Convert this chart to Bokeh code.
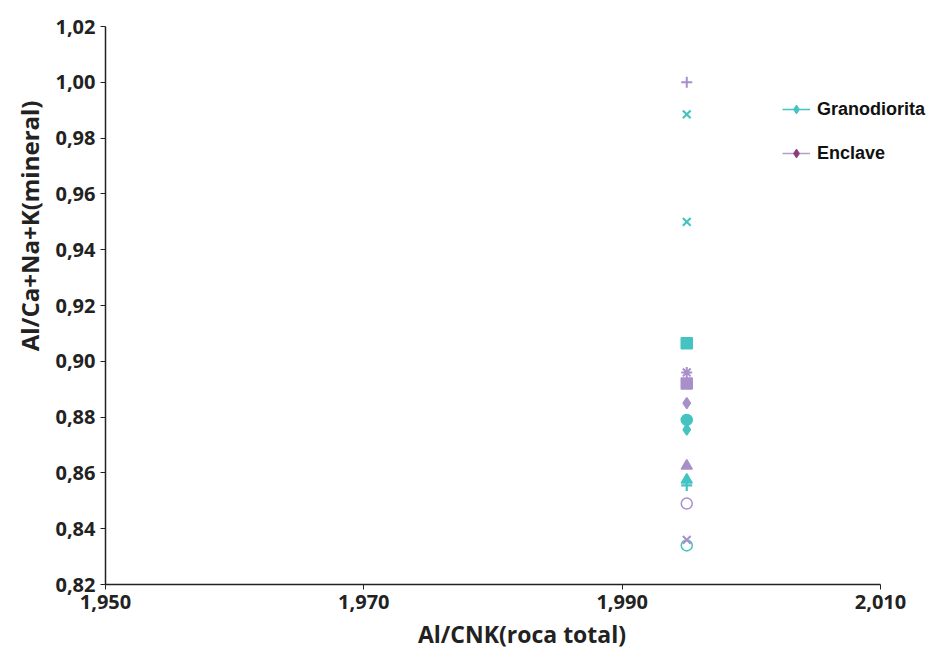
from bokeh.plotting import figure
from bokeh.models import FixedTicker, Legend, LegendItem, Range1d, Title
from bokeh.embed import file_html
from bokeh.resources import INLINE

# Data
x_value = 1.995
grano_markers = ["x", "x", "square", "circle", "diamond", "triangle", "cross", "circle"]
grano_y = [0.9885, 0.950, 0.9065, 0.879, 0.8755, 0.8575, 0.8555, 0.834]
grano_filled = [True, True, True, True, True, True, True, False]
encl_markers = ["cross", "asterisk", "square", "diamond", "triangle", "circle", "x"]
encl_y = [1.000, 0.896, 0.892, 0.885, 0.8625, 0.849, 0.836]
encl_filled = [True, True, True, True, True, False, True]

y_ticks = [0.82, 0.84, 0.86, 0.88, 0.90, 0.92, 0.94, 0.96, 0.98, 1.00, 1.02]
y_labels = ["0,82", "0,84", "0,86", "0,88", "0,90", "0,92", "0,94", "0,96", "0,98", "1,00", "1,02"]
x_ticks = [1.950, 1.970, 1.990, 2.010]
x_labels = ["1,950", "1,970", "1,990", "2,010"]
x_start, x_end = 1.950, 2.010

TEAL = "#45C3C3"
PURPLE = "#A98FC9"
ENCL_LEG = "#8C3F7C"
ENCL_LINE = "#B89CC8"

# frame spans 105..938 px; axis drawn only 1.950..2.010 (105..880 px)
x_pad = (x_end - x_start) * 58.0 / 775.0
p = figure(width=938, height=652, output_backend="svg", toolbar_location=None,
           x_range=Range1d(x_start, x_end + x_pad), y_range=Range1d(0.82, 1.02),
           min_border_left=105, min_border_right=0, min_border_top=26, min_border_bottom=66)
p.outline_line_color = None
p.xgrid.visible = False
p.ygrid.visible = False

for m, yv, f in zip(grano_markers, grano_y, grano_filled):
    p.scatter([x_value], [yv], marker=m, size=11, line_color=TEAL,
              line_width=2.2 if m in ("x", "cross") else 1.5,
              fill_color=TEAL if f else None)
for m, yv, f in zip(encl_markers, encl_y, encl_filled):
    p.scatter([x_value], [yv], marker=m, size=11, line_color=PURPLE,
              line_width=2 if m in ("x", "cross", "asterisk") else 1.5,
              fill_color=PURPLE if f else None)

# legend proxies (placed outside visible range)
off_x, off_y = [3.0], [0.9]
gl = p.line(off_x, off_y, line_color=TEAL, line_width=1.5)
gs = p.scatter(off_x, off_y, marker="diamond", size=10, fill_color=TEAL, line_color=TEAL)
el = p.line(off_x, off_y, line_color=ENCL_LINE, line_width=1.5)
es = p.scatter(off_x, off_y, marker="diamond", size=10, fill_color=ENCL_LEG, line_color=ENCL_LEG)
legend = Legend(items=[LegendItem(label="Granodiorita", renderers=[gl, gs]),
                       LegendItem(label="Enclave", renderers=[el, es])],
                location=(677, 420), border_line_color=None, background_fill_alpha=0,
                label_text_font="Liberation Sans", label_text_font_style="bold",
                label_text_font_size="18px", label_text_color="#111111",
                glyph_width=28, glyph_height=22, label_height=22,
                spacing=22, label_standoff=7)
p.add_layout(legend, "center")

for ax in (p.xaxis, p.yaxis):
    ax.axis_line_color = "#222222"
    ax.axis_line_width = 1.5
    ax.major_tick_line_color = "#222222"
    ax.major_tick_out = 5
    ax.major_tick_in = 0
    ax.minor_tick_line_color = None
    ax.major_label_text_font = "Open Sans"
    ax.major_label_text_font_style = "bold"
    ax.major_label_text_font_size = "20px"
    ax.major_label_text_color = "#222222"
    ax.axis_label_text_font = "Open Sans"
    ax.axis_label_text_font_style = "bold"
    ax.axis_label_text_font_size = "23px"
    ax.axis_label_text_color = "#222222"

p.xaxis.bounds = (x_start, x_end)
p.yaxis.ticker = FixedTicker(ticks=y_ticks)
p.yaxis.major_label_overrides = {t: l for t, l in zip(y_ticks, y_labels)}
p.xaxis.ticker = FixedTicker(ticks=x_ticks)
p.xaxis.major_label_overrides = {t: l for t, l in zip(x_ticks, x_labels)}
p.xaxis.axis_label = "Al/CNK(roca total)"
p.xaxis.axis_label_standoff = 6

ytitle = Title(text="Al/Ca+Na+K(mineral)", align="right", offset=74,
               text_font="Open Sans", text_font_style="bold", text_font_size="24px",
               text_color="#222222", standoff=14)
p.add_layout(ytitle, "left")

open("out.html", "w").write(file_html(p, INLINE))
